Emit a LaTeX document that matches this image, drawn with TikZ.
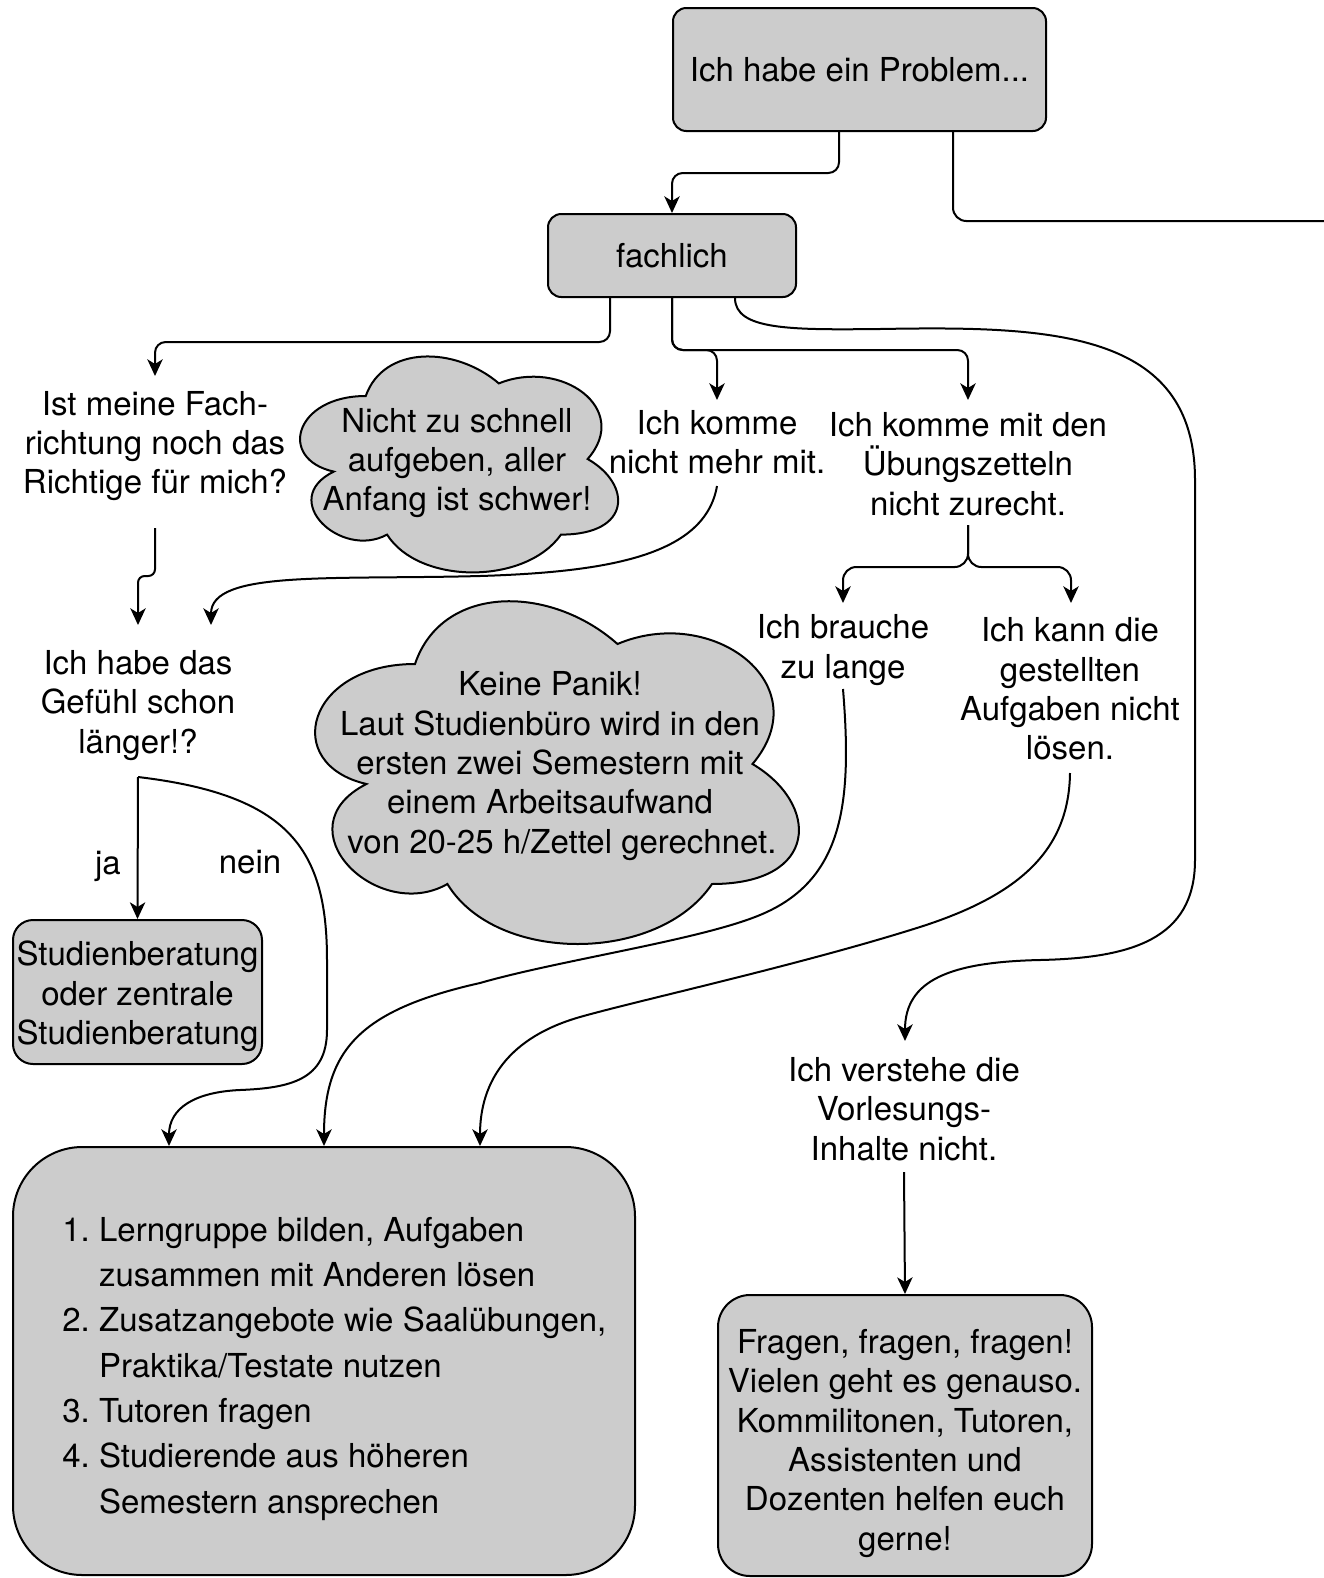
\documentclass[tikz,border=0pt]{standalone}
\usepackage{fontspec}
\setmainfont{TeX Gyre Heros}
\usetikzlibrary{arrows.meta,calc}
\definecolor{boxgray}{HTML}{CCCCCC}
\newcommand\mxcloud[4]{%
  \begin{scope}[shift={(#1,#2)},xscale=#3,yscale=#4]
    \filldraw[cloudst] (0.25,0.25) .. controls (0.05,0.25) and (0,0.5) .. (0.16,0.55)
      .. controls (0,0.66) and (0.18,0.9) .. (0.31,0.8)
      .. controls (0.4,1) and (0.7,1) .. (0.8,0.8)
      .. controls (1,0.8) and (1,0.6) .. (0.875,0.5)
      .. controls (1,0.3) and (0.8,0.1) .. (0.625,0.2)
      .. controls (0.5,0.05) and (0.3,0.05) .. (0.25,0.25) -- cycle;
  \end{scope}}
\begin{document}
\begin{tikzpicture}[x=0.75pt,y=-0.75pt,
  every node/.style={font=\fontsize{24.75pt}{29.5pt}\selectfont, inner sep=0pt, align=center},
  box/.style={draw, fill=boxgray, line width=1.5pt, rounded corners=#1},
  box/.default=10pt,
  cloudst/.style={fill=boxgray, draw=black, line width=1.5pt},
  conn/.style={draw, line width=1.5pt},
  arr/.style={conn, -{Stealth[length=12.5pt,width=11.5pt,inset=3.5pt]}}]
\useasboundingbox (0,0) rectangle (1324,1578);

% boxes
\node[box, minimum width=279.75pt, minimum height=92.25pt] (prob) at (859.5,69.5) {Ich habe ein Problem...};
\node[box, minimum width=186pt, minimum height=62.25pt] (fach) at (672,255.5) {fachlich};
\node[box=15pt, minimum width=186.75pt, minimum height=108pt] (studien) at (137.5,992) {\rule{0pt}{25.3pt}Studienberatung\\oder zentrale\\Studienberatung};
\node[box=52pt, minimum width=466.5pt, minimum height=321pt] (lst) at (324,1361) {};
\node[box=24pt, minimum width=280.5pt, minimum height=210.75pt] (fragen) at (905,1435.5) {\rule{0pt}{29.8pt}Fragen, fragen, fragen!\\Vielen geht es genauso.\\Kommilitonen, Tutoren,\\Assistenten und\\Dozenten helfen euch\\gerne!};

% clouds
\mxcloud{277}{333}{355}{252}
\node (cloudA) at (457,463) {Nicht zu schnell\\aufgeben, aller\\Anfang ist schwer!};
\mxcloud{280}{564}{540}{400}
\node (cloudB) at (550,766) {Keine Panik!\\Laut Studienbüro wird in den\\ersten zwei Semestern mit\\einem Arbeitsaufwand\\\hspace*{18pt}von 20-25 h/Zettel gerechnet.};

% plain texts
\node (ist) at (155,446) {Ist meine Fach-\\richtung noch das\\Richtige für mich?};
\node (mehr) at (717,442) {Ich komme\\nicht mehr mit.};
\node (ueb) at (968,464) {Ich komme mit den\\Übungszetteln\\nicht zurecht.};
\node (brauche) at (843,650) {Ich brauche\\zu lange};
\node (kann) at (1070,689) {Ich kann die\\gestellten\\Aufgaben nicht\\lösen.};
\node (habe) at (138,705.5) {Ich habe das\\Gefühl schon\\länger!?};
\node (ja) at (108,866) {ja};
\node (nein) at (250,862) {nein};
\node (versteh) at (904,1109) {Ich verstehe die\\Vorlesungs-\\Inhalte nicht.};
\node[anchor=west, font=\fontsize{24.75pt}{34pt}\selectfont] (lsttxt) at (62,1368) {%
\begin{tabular}{@{}l@{\hspace{7pt}}l@{}}
1. & Lerngruppe bilden, Aufgaben\\
   & zusammen mit Anderen lösen\\
2. & Zusatzangebote wie Saalübungen,\\
   & Praktika/Testate nutzen\\
3. & Tutoren fragen\\
4. & Studierende aus höheren\\
   & Semestern ansprechen
\end{tabular}};

\coordinate (offR) at (1324,221);

% connectors
\draw[arr, rounded corners=8pt] ($(prob.south)+(-20.5,0)$) |- ($(fach.north)+(0,-40)$) -- (fach.north);
\draw[conn, rounded corners=10pt] ($(prob.south)+(93.5,0)$) |- (offR);

\draw[arr, rounded corners=8pt] ($(fach.south)+(-62,0)$) -- ++(0,44) -| ($(ist.center)+(0,-70)$);
\draw[arr, rounded corners=8pt] (fach.south) -- ++(0,52) -| ($(mehr.center)+(0,-42)$);
\draw[arr, rounded corners=8pt] (fach.south) -- ++(0,52) -| ($(ueb.center)+(0,-64)$);
\draw[arr] ($(fach.south)+(63,0)$) .. controls (735,330) and (790,330) .. (880,329)
  .. controls (1050,326) and (1195,330) .. (1195,480) -- (1195,860)
  .. controls (1195,940) and (1130,958) .. (1040,960)
  .. controls (950,962) and (905,980) .. ($(versteh.center)+(1,-68)$);

\draw[arr, rounded corners=5pt] ($(ist.center)+(0,82)$) -- ++(0,48) -| ($(habe.center)+(0,-80.5)$);
\draw[arr] ($(mehr.center)+(0,44)$) .. controls (705,555) and (610,572) .. (480,576)
  .. controls (330,580) and (211,570) .. ($(habe.center)+(73,-80.5)$);

\draw[arr, rounded corners=10pt] ($(ueb.center)+(0,61)$) -- ++(0,42) -| ($(brauche.center)+(0,-47)$);
\draw[arr, rounded corners=10pt] ($(ueb.center)+(0,61)$) -- ++(0,42) -| ($(kann.center)+(1,-86)$);

\draw[arr] ($(habe.center)+(0,71.5)$) -- (studien.north);
\draw[arr] ($(habe.center)+(0,71.5)$) .. controls (290,795) and (327,850) .. (327,960) -- (327,1030)
  .. controls (327,1080) and (290,1088) .. (240,1090)
  .. controls (195,1092) and (169,1108) .. ($(lst.north)+(-155,0)$);
\draw[arr] ($(brauche.center)+(0,39)$) .. controls (852,800) and (845,880) .. (760,915)
  .. controls (700,940) and (560,960) .. (480,983)
  .. controls (360,1010) and (324,1050) .. (lst.north);
\draw[arr] ($(kann.center)+(0,84)$) .. controls (1069,850) and (1020,895) .. (920,927)
  .. controls (800,965) and (640,1000) .. (580,1017)
  .. controls (510,1037) and (480,1080) .. ($(lst.north)+(156,0)$);
\draw[arr] ($(versteh.center)+(0,63)$) -- (fragen.north);
\end{tikzpicture}
\end{document}
